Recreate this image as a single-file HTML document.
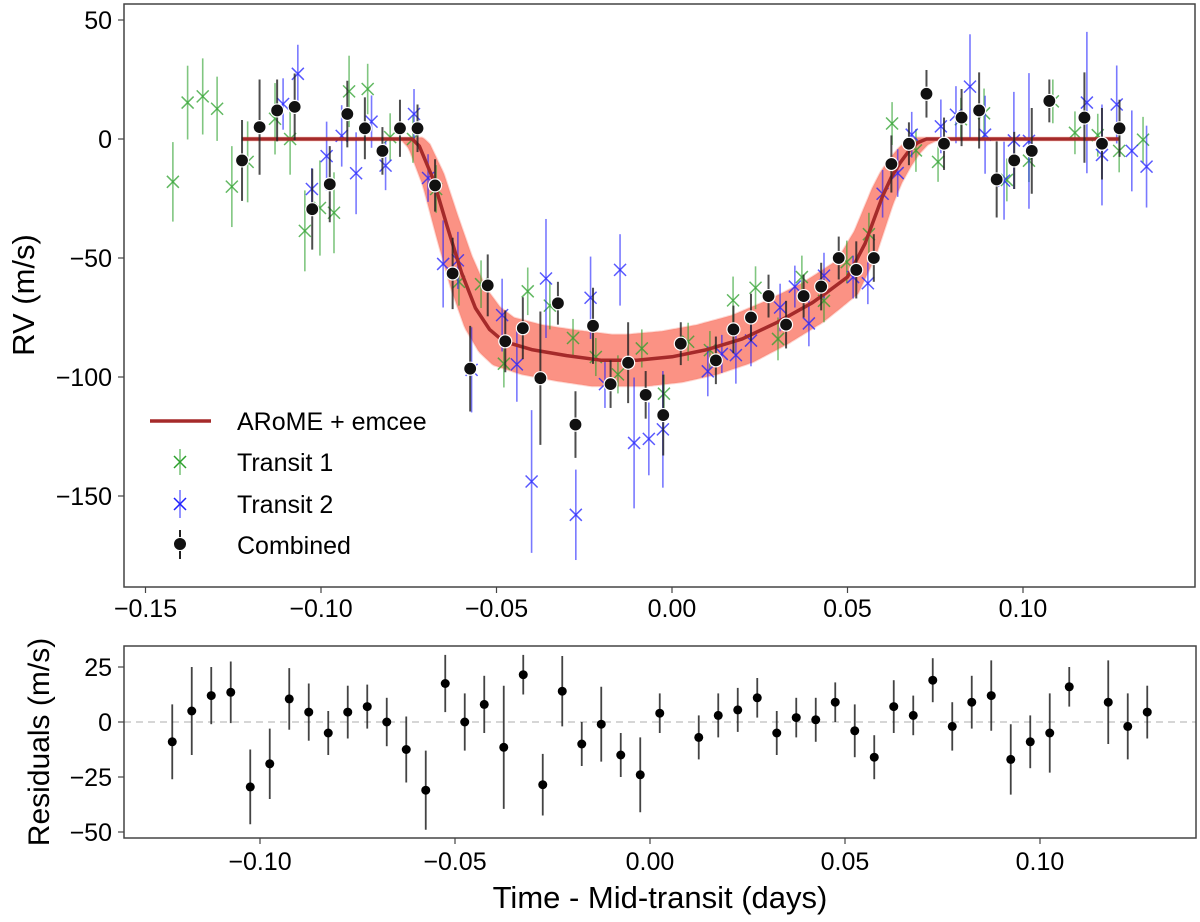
<!DOCTYPE html>
<html><head><meta charset="utf-8"><style>
html,body{margin:0;padding:0;background:#fff;}
svg{display:block;font-family:"Liberation Sans",Arial,sans-serif;}
</style></head><body>
<svg id="chart" width="1200" height="922" viewBox="0 0 1200 922" xmlns="http://www.w3.org/2000/svg"></svg>
<script>
// ---------- data ----------
const modelT = [-0.1225,-0.074,-0.072,-0.068,-0.064,-0.060,-0.056,-0.052,-0.048,-0.040,-0.030,-0.020,-0.010,0.000,0.010,0.020,0.030,0.040,0.045,0.050,0.0525,0.055,0.0575,0.060,0.0625,0.065,0.0675,0.070,0.0725,0.1275];
const modelV = [0,0,-3,-17,-37,-56,-71,-80,-85,-88.5,-91,-93,-93,-91.5,-88.5,-84,-77,-68.8,-63.5,-58,-51,-44,-34,-24,-16,-10,-5,-1.5,0,0];

const combT = [-0.1225,-0.1175,-0.1125,-0.1075,-0.1025,-0.0975,-0.0925,-0.0875,-0.0825,-0.0775,-0.0725,-0.0675,-0.0625,-0.0575,-0.0525,-0.0475,-0.0425,-0.0375,-0.0325,-0.0275,-0.0225,-0.0175,-0.0125,-0.0075,-0.0025,0.0025,0.0125,0.0175,0.0225,0.0275,0.0325,0.0375,0.0425,0.0475,0.0525,0.0575,0.0625,0.0675,0.0725,0.0775,0.0825,0.0875,0.0925,0.0975,0.1025,0.1075,0.1175,0.1225,0.1275];
const combV = [-9,5,12,13.5,-29.5,-19,10.5,4.5,-5,4.5,4.5,-19.5,-56.5,-96.5,-61.5,-85,-79.5,-100.5,-69,-120,-78.5,-103,-94,-107.5,-116,-86,-93,-80,-75,-66,-78,-66,-62,-50,-55,-50,-10.5,-2,19,-2,9,12,-17,-9,-5,16,9,-2,4.5];
const resV = [-9,5,12,13.5,-29.5,-19,10.5,4.5,-5,4.5,7,0,-12.5,-31,17.5,0,8,-11.5,21.5,-28.5,14,-10,-1,-15,-24,4,-7,3,5.5,11,-5,2,1,9,-4,-16,7,3,19,-2,9,12,-17,-9,-5,16,9,-2,4.5];
const resE = [17,20,13,14,17,16,14,13,10,12,10,11,15,18,13,13,13,28,9,14,16,10,17,10,17,9,10,10,10,9,10,9,10,9,12,10,12,9,10,11,12,16,16,12,18,9,19,15,12];

const t1T = [-0.1422,-0.1380,-0.1337,-0.1296,-0.1254,-0.1209,-0.1131,-0.1088,-0.1046,-0.1003,-0.0963,-0.0920,-0.0867,-0.0803,-0.0738,-0.0672,-0.0607,-0.0544,-0.0479,-0.0411,-0.0348,-0.0282,-0.0217,-0.0154,-0.0086,-0.0023,0.0046,0.0108,0.0174,0.0238,0.0302,0.0370,0.0433,0.0498,0.0561,0.0627,0.0695,0.0758,0.0823,0.0889,0.0954,0.1017,0.1085,0.1148,0.1213,0.1274,0.1342];
const t1V = [-18,15.3,17.9,12.7,-20,-9.6,8.5,0,-38.6,-29,-31,20,21,0.8,0,-21,-60,-61,-94.4,-64,-70,-83.6,-91.6,-98.9,-88,-107,-85.2,-88.7,-67.8,-62.5,-84,-58,-68,-51.7,-40,6.5,-4.8,-9.6,8.3,10.8,-17.2,-9.1,15.8,2.6,1.6,-5,-0.3];
const t1E = [16.7,15.5,16,13.5,17,17,15,15,17,20,17,15,10.6,10,10,10,10,10,10,10,10,8,8,8,8,8,8,8,10,9,9,9,9,9,9,9,9,8.4,9,10.4,9,9,9.2,9,9,9,9.6];

const t2T = [-0.1108,-0.1066,-0.1026,-0.0984,-0.0941,-0.0900,-0.0856,-0.0816,-0.0735,-0.0695,-0.0652,-0.0610,-0.0571,-0.0484,-0.0442,-0.0400,-0.0359,-0.0274,-0.0232,-0.0191,-0.0148,-0.0108,-0.0066,-0.0026,0.0102,0.0142,0.0182,0.0225,0.0308,0.0350,0.0390,0.0433,0.0516,0.0558,0.0600,0.0643,0.0683,0.0766,0.0809,0.0849,0.0892,0.0946,0.0974,0.1017,0.1182,0.1225,0.1267,0.1310,0.1352];
const t2V = [14.7,27.4,-21,-7.2,1.3,-14.4,7.3,-11.2,10.5,-16.4,-52.5,-51,-97,-74,-94.7,-143.9,-58.6,-157.9,-66.7,-103,-55,-127.7,-126,-122,-97.6,-90.3,-90.8,-84.7,-70.8,-62,-77.5,-57.4,-58,-60.6,-23,-14.3,1.8,5.3,10.2,22,1.8,-17.5,-0.6,-0.8,15.3,-6.7,14.5,-5,-11.6];
const t2E = [10.8,12.2,8.8,14.5,12.9,17.2,11,10.3,10.5,10,18.3,12,17.9,15.3,15.7,30,25,19,17.3,10,15,27.5,15.3,24.5,10.5,8,12,10.8,10,8.8,9.6,9.6,9,8.8,10,10,9.6,11.3,12,22,16.4,16.4,20.4,28.5,29.7,21.2,16.4,17,17.2];

const mainXTicks = [-0.15,-0.10,-0.05,0.00,0.05,0.10];
const mainXLabels = ["\u22120.15","\u22120.10","\u22120.05","0.00","0.05","0.10"];
const mainYTicks = [50,0,-50,-100,-150];
const mainYLabels = ["50","0","\u221250","\u2212100","\u2212150"];
const resXTicks = [-0.10,-0.05,0.00,0.05,0.10];
const resXLabels = ["\u22120.10","\u22120.05","0.00","0.05","0.10"];
const resYTicks = [25,0,-25,-50];
const resYLabels = ["25","0","\u221225","\u221250"];

// ---------- axes ----------
const NS = "http://www.w3.org/2000/svg";
const svg = document.getElementById('chart');
const MX = t => 672 + t * 3510;
const MY = v => 139 - v * 2.38;
const RX = t => 650 + t * 3900;
const RY = v => 722 - v * 2.2;
function mk(tag, attrs, parent) {
  const e = document.createElementNS(NS, tag);
  for (const k in attrs) e.setAttribute(k, attrs[k]);
  (parent || svg).appendChild(e);
  return e;
}
function modelAt(t) {
  if (t <= modelT[0]) return modelV[0];
  for (let i = 1; i < modelT.length; i++) {
    if (t <= modelT[i]) {
      const f = (t - modelT[i-1]) / (modelT[i] - modelT[i-1]);
      return modelV[i-1] + f * (modelV[i] - modelV[i-1]);
    }
  }
  return modelV[modelV.length-1];
}

const defs = mk('defs', {});
const cp = mk('clipPath', {id: 'mainclip'}, defs);
mk('rect', {x: 124, y: 4, width: 1071, height: 583}, cp);

// ---------- main panel ----------
const mainG = mk('g', {'clip-path': 'url(#mainclip)'});



// posterior band (envelope of shifted/scaled model samples)
const bandG = mk('g', {}, mainG);


const shifts = [-0.003,-0.002,-0.001,0,0.001,0.002,0.003];
const scales = [0.89,0.93,0.97,1.0,1.03,1.07,1.11];
const xs = [];
for (let x = 242; x <= 1119; x += 2) xs.push(x);
const upper = [], lower = [];
xs.forEach(x => {
  const t = (x - 672) / 3510;
  let mn = Infinity, mx = -Infinity;
  shifts.forEach(dt => scales.forEach(sc => {
    const v = modelAt(t + dt) * sc;
    if (v < mn) mn = v; if (v > mx) mx = v;
  }));
  upper.push(MY(mx)); lower.push(MY(mn));
});
let bd = '';
xs.forEach((x, i) => { bd += (i ? 'L' : 'M') + x + ',' + (upper[i] - 1.5).toFixed(1); });
for (let i = xs.length - 1; i >= 0; i--) bd += 'L' + xs[i] + ',' + (lower[i] + 1.5).toFixed(1);
bd += 'Z';
const band = mk('path', {d: bd, fill: '#fa7f6e', 'fill-opacity': 0.85, stroke: '#fa7f6e', 'stroke-opacity': 0.3, 'stroke-width': 2}, bandG);



function drawTransit(T, V, E, color, name) {
  const g = mk('g', {}, mainG);
  
  
  T.forEach((t, i) => {
    const x = MX(t), y = MY(V[i]);
    const l = mk('line', {x1: x, x2: x, y1: MY(V[i] + E[i]), y2: MY(V[i] - E[i]), stroke: color, 'stroke-width': 1.6, 'stroke-opacity': 0.6}, g);
    
    
    const m = mk('path', {d: `M${x-6},${y-6}L${x+6},${y+6}M${x-6},${y+6}L${x+6},${y-6}`, stroke: color, 'stroke-width': 1.5, 'stroke-opacity': 0.75, fill: 'none'}, g);
    
    
  });
}
drawTransit(t1T, t1V, t1E, '#2ca02c', 'transit-1');
drawTransit(t2T, t2V, t2E, '#2020ff', 'transit-2');

let md = '';
modelT.forEach((t, i) => { md += (i ? 'L' : 'M') + MX(t).toFixed(1) + ',' + MY(modelV[i]).toFixed(1); });
const ml = mk('path', {d: md, fill: 'none', stroke: '#a52a2a', 'stroke-width': 3.5, 'stroke-linejoin': 'round'}, mainG);



const combG = mk('g', {}, mainG);


combT.forEach((t, i) => {
  const x = MX(t);
  const l = mk('line', {x1: x, x2: x, y1: MY(combV[i] + resE[i]), y2: MY(combV[i] - resE[i]), stroke: '#222', 'stroke-width': 2, 'stroke-opacity': 0.8}, combG);
  
  
});
combT.forEach((t, i) => {
  const c = mk('circle', {cx: MX(t), cy: MY(combV[i]), r: 6.5, fill: '#111', stroke: '#fff', 'stroke-width': 1.2}, combG);
  
  
});

const mf = mk('rect', {x: 124, y: 4, width: 1071, height: 583, fill: 'none', stroke: '#444', 'stroke-width': 1.5});



mainXTicks.forEach((t, i) => {
  const x = MX(t);
  const tk = mk('line', {x1: x, x2: x, y1: 587, y2: 593, stroke: '#444', 'stroke-width': 1.2});
  
  
  const tx = mk('text', {x: x, y: 617, 'text-anchor': 'middle', 'font-size': 25, fill: '#000'});
  tx.textContent = mainXLabels[i];
  
  
});
mainYTicks.forEach((v, i) => {
  const y = MY(v);
  const tk = mk('line', {x1: 118, x2: 124, y1: y, y2: y, stroke: '#444', 'stroke-width': 1.2});
  
  
  const tx = mk('text', {x: 112, y: y + 9, 'text-anchor': 'end', 'font-size': 25, fill: '#000'});
  tx.textContent = mainYLabels[i];
  
  
});
const yl = mk('text', {x: 0, y: 0, transform: 'translate(34,295) rotate(-90)', 'text-anchor': 'middle', 'font-size': 31, fill: '#000'});
yl.textContent = 'RV (m/s)';



// legend
const lg = mk('g', {});


const e1 = mk('g', {}, lg);


mk('line', {x1: 150, x2: 211, y1: 421, y2: 421, stroke: '#a52a2a', 'stroke-width': 3.5}, e1);
mk('text', {x: 237, y: 430, 'font-size': 25, fill: '#000'}, e1).textContent = 'ARoME + emcee';
const e2 = mk('g', {}, lg);


mk('line', {x1: 180, x2: 180, y1: 449, y2: 475, stroke: '#2ca02c', 'stroke-width': 1.6, 'stroke-opacity': 0.6}, e2);
mk('path', {d: 'M174,456L186,468M174,468L186,456', stroke: '#2ca02c', 'stroke-width': 1.5, fill: 'none'}, e2);
mk('text', {x: 237, y: 471, 'font-size': 25, fill: '#000'}, e2).textContent = 'Transit 1';
const e3 = mk('g', {}, lg);


mk('line', {x1: 180, x2: 180, y1: 490, y2: 518, stroke: '#2020ff', 'stroke-width': 1.6, 'stroke-opacity': 0.6}, e3);
mk('path', {d: 'M174,498L186,510M174,510L186,498', stroke: '#2020ff', 'stroke-width': 1.5, fill: 'none'}, e3);
mk('text', {x: 237, y: 513, 'font-size': 25, fill: '#000'}, e3).textContent = 'Transit 2';
const e4 = mk('g', {}, lg);


mk('line', {x1: 180, x2: 180, y1: 530, y2: 559, stroke: '#222', 'stroke-width': 2}, e4);
mk('circle', {cx: 180, cy: 544, r: 6.5, fill: '#111', stroke: '#fff', 'stroke-width': 1}, e4);
mk('text', {x: 237, y: 554, 'font-size': 25, fill: '#000'}, e4).textContent = 'Combined';

// ---------- residual panel ----------
const zl = mk('line', {x1: 124, x2: 1196, y1: RY(0), y2: RY(0), stroke: '#c8c8c8', 'stroke-width': 1.6, 'stroke-dasharray': '7,5'});


const resG = mk('g', {});


combT.forEach((t, i) => {
  const x = RX(t);
  const l = mk('line', {x1: x, x2: x, y1: RY(resV[i] + resE[i]), y2: RY(resV[i] - resE[i]), stroke: '#222', 'stroke-width': 1.8, 'stroke-opacity': 0.85}, resG);
  
  
  const c = mk('circle', {cx: x, cy: RY(resV[i]), r: 4.5, fill: '#000'}, resG);
  
  
});
const rf = mk('rect', {x: 124, y: 646, width: 1072, height: 192, fill: 'none', stroke: '#444', 'stroke-width': 1.5});


resXTicks.forEach((t, i) => {
  const x = RX(t);
  const tk = mk('line', {x1: x, x2: x, y1: 838, y2: 844, stroke: '#444', 'stroke-width': 1.2});
  
  
  const tx = mk('text', {x: x, y: 870, 'text-anchor': 'middle', 'font-size': 25, fill: '#000'});
  tx.textContent = resXLabels[i];
  
  
});
resYTicks.forEach((v, i) => {
  const y = RY(v);
  const tk = mk('line', {x1: 118, x2: 124, y1: y, y2: y, stroke: '#444', 'stroke-width': 1.2});
  
  
  const tx = mk('text', {x: 112, y: y + 9, 'text-anchor': 'end', 'font-size': 25, fill: '#000'});
  tx.textContent = resYLabels[i];
  
  
});
const ryl = mk('text', {x: 0, y: 0, transform: 'translate(49,742) rotate(-90)', 'text-anchor': 'middle', 'font-size': 30, fill: '#000'});
ryl.textContent = 'Residuals (m/s)';


const xl = mk('text', {x: 660, y: 908, 'text-anchor': 'middle', 'font-size': 31, fill: '#000'});
xl.textContent = 'Time - Mid-transit (days)';


</script>
</body></html>
